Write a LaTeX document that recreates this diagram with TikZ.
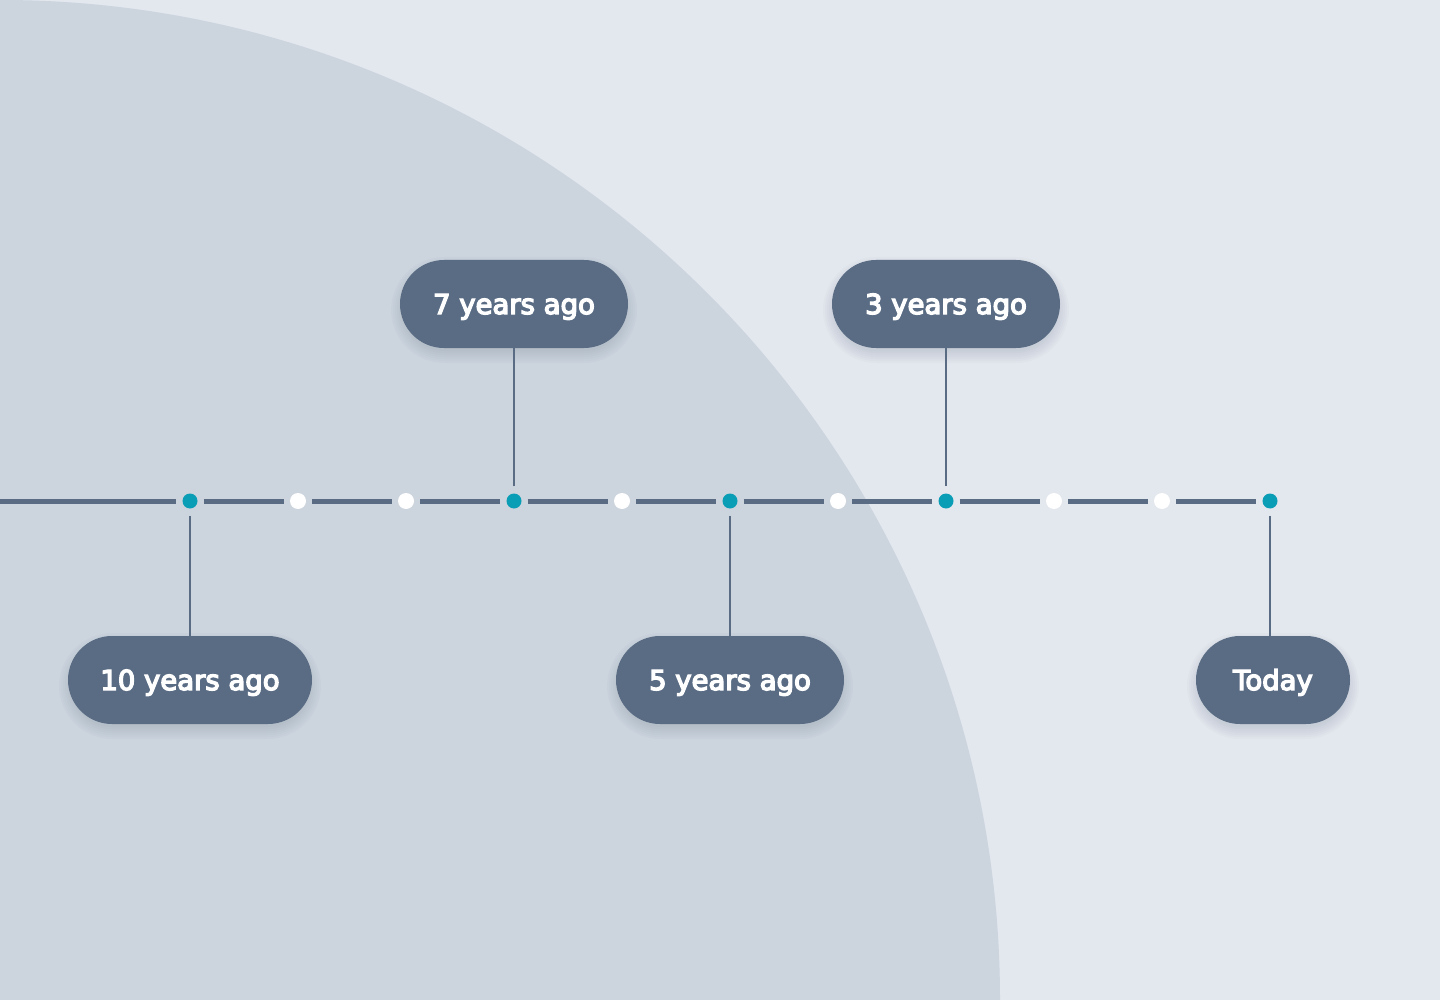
\documentclass[tikz,border=0pt]{standalone}
\usepackage{fontspec}
\newfontfamily\lblfont{DejaVu Sans}[FakeBold=5]
\usetikzlibrary{shapes.misc}
\definecolor{bgc}{HTML}{E3E7EE}
\definecolor{circc}{HTML}{CCD4DE}
\definecolor{slate}{HTML}{596C84}
\definecolor{tealc}{HTML}{0A9DB6}
\definecolor{shadc}{HTML}{2E3E52}
\tikzset{
  tealdot/.style={circle, fill=tealc, draw=none, inner sep=0pt, minimum size=15pt},
  whitedot/.style={circle, fill=white, draw=none, inner sep=0pt, minimum size=16pt},
  tline/.style={draw=slate, line width=5pt},
  conn/.style={draw=slate, line width=1.6pt},
  bubble/.style={rounded rectangle, fill=slate, draw=none, text=white, inner xsep=0pt, inner ysep=0pt,
     minimum height=88pt, text height=20pt, text depth=0pt,
     font=\lblfont\fontsize{27.5}{31}\selectfont},
  shadowlayer/.style={rounded rectangle, fill=shadc, draw=none, opacity=0.018, inner sep=0pt},
}
\newcommand\bub[5]{%
  \foreach \s in {2,6,...,26}{%
    \node[shadowlayer, minimum width={#4+\s-8}, minimum height={88+\s-8}] at (#2,#3+6) {};
  }%
  \node[bubble, minimum width=#4] (#1) at (#2,#3) {#5};
}
\begin{document}
\begin{tikzpicture}[x=1pt,y=-1pt]
\useasboundingbox (0,0) rectangle (1440,1000);
\fill[bgc] (0,0) rectangle (1440,1000);
\begin{scope}
  \clip (0,0) rectangle (1440,1000);
  \fill[circc] (0,1000) circle (1000);
\end{scope}
% dots
\node[tealdot]  (d0)  at (190,501) {};
\node[whitedot] (d1)  at (298,501) {};
\node[whitedot] (d2)  at (406,501) {};
\node[tealdot]  (d3)  at (514,501) {};
\node[whitedot] (d4)  at (622,501) {};
\node[tealdot]  (d5)  at (730,501) {};
\node[whitedot] (d6)  at (838,501) {};
\node[tealdot]  (d7)  at (946,501) {};
\node[whitedot] (d8)  at (1054,501) {};
\node[whitedot] (d9)  at (1162,501) {};
\node[tealdot]  (d10) at (1270,501) {};
\coordinate (start) at (0,501);
% timeline segments
\draw[tline] (start) -- ([xshift=-6pt]d0.west);
\foreach \a/\b in {d0/d1,d1/d2,d2/d3,d3/d4,d4/d5,d5/d6,d6/d7,d7/d8,d8/d9,d9/d10}{
  \draw[tline] ([xshift=6pt]\a.east) -- ([xshift=-6pt]\b.west);
}
% bubbles
\bub{b7}{514}{304}{228}{7 years ago}
\bub{b3}{946}{304}{228}{3 years ago}
\bub{b10}{190}{680}{244}{10 years ago}
\bub{b5}{730}{680}{228}{5 years ago}
\bub{bt}{1273}{680}{154}{Today}
% connectors
\draw[conn] ([yshift=7pt]d3.north) -- (b7.south);
\draw[conn] ([yshift=7pt]d7.north) -- (b3.south);
\draw[conn] ([yshift=-7pt]d0.south) -- (b10.north -| d0);
\draw[conn] ([yshift=-7pt]d5.south) -- (b5.north -| d5);
\draw[conn] ([yshift=-7pt]d10.south) -- (bt.north -| d10);
\end{tikzpicture}
\end{document}
